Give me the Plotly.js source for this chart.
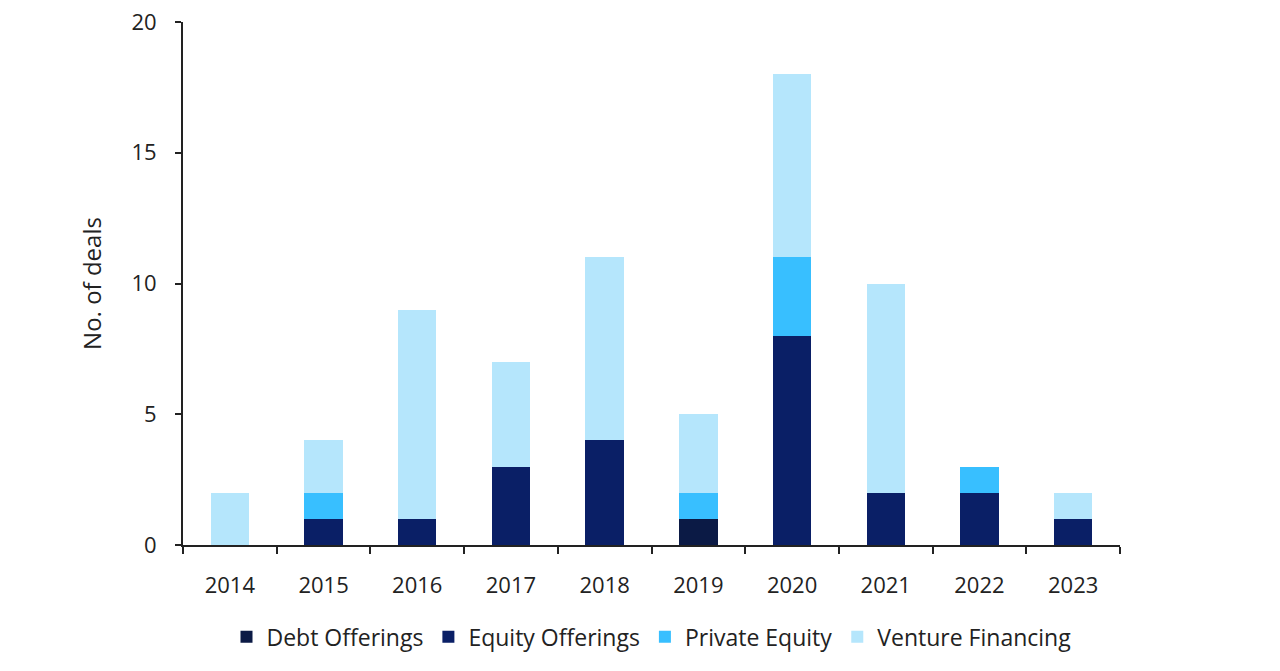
<!DOCTYPE html>
<html><head><meta charset="utf-8">
<script src="https://cdn.plot.ly/plotly-3.0.1.min.js"></script>
<style>html,body{margin:0;padding:0;background:#fff}#chart{width:1280px;height:671px}</style>
</head><body><div id="chart"></div>
<script>
const years = ['2014','2015','2016','2017','2018','2019','2020','2021','2022','2023'];
const debtOfferings = [0,0,0,0,0,1,0,0,0,0];
const equityOfferings = [0,1,1,3,4,0,8,2,2,1];
const privateEquity = [0,1,0,0,0,1,3,0,1,0];
const ventureFinancing = [2,2,8,4,7,3,7,8,0,1];
const seriesNames = ['Debt Offerings','Equity Offerings','Private Equity','Venture Financing'];
const seriesColors = ['#0b1a45','#0a1f66','#38bfff','#b5e6fc'];
const seriesData = [debtOfferings, equityOfferings, privateEquity, ventureFinancing];

const traces = seriesData.map((d,i)=>({
  type:'bar', x:years, y:d, name:seriesNames[i],
  marker:{color:seriesColors[i], line:{width:0}},
  hoverinfo:'x+y+name'
}));

const fam = '"Open Sans", "Liberation Sans", sans-serif';
Plotly.newPlot('chart', traces, {
  width:1280, height:671,
  barmode:'stack', bargap:0.59,
  margin:{l:183, r:160, t:22, b:126, autoexpand:false},
  paper_bgcolor:'#fff', plot_bgcolor:'#fff',
  font:{family:fam, color:'#222', size:22},
  showlegend:true,
  legend:{orientation:'h', x:0.5, xanchor:'center', yref:'container', y:0.083, yanchor:'top',
    font:{family:fam, size:23, color:'#222'}, itemwidth:30, traceorder:'normal'},
  xaxis:{type:'category', showline:true, linecolor:'#222', linewidth:2, automargin:false,
    ticks:'outside', tickson:'boundaries', ticklen:7, tickwidth:2, tickcolor:'#222',
    showgrid:false, zeroline:false, tickfont:{size:22}, ticklabelstandoff:20},
  yaxis:{range:[0,20], tickvals:[0,5,10,15,20], showline:true, linecolor:'#222', linewidth:2, automargin:false,
    ticks:'outside', ticklen:6, tickwidth:2, tickcolor:'#222',
    showgrid:false, zeroline:false, tickfont:{size:22}, ticklabelstandoff:14,
    title:{text:'No. of deals', font:{size:24}, standoff:23}}
}, {displayModeBar:false, staticPlot:true});
</script></body></html>
